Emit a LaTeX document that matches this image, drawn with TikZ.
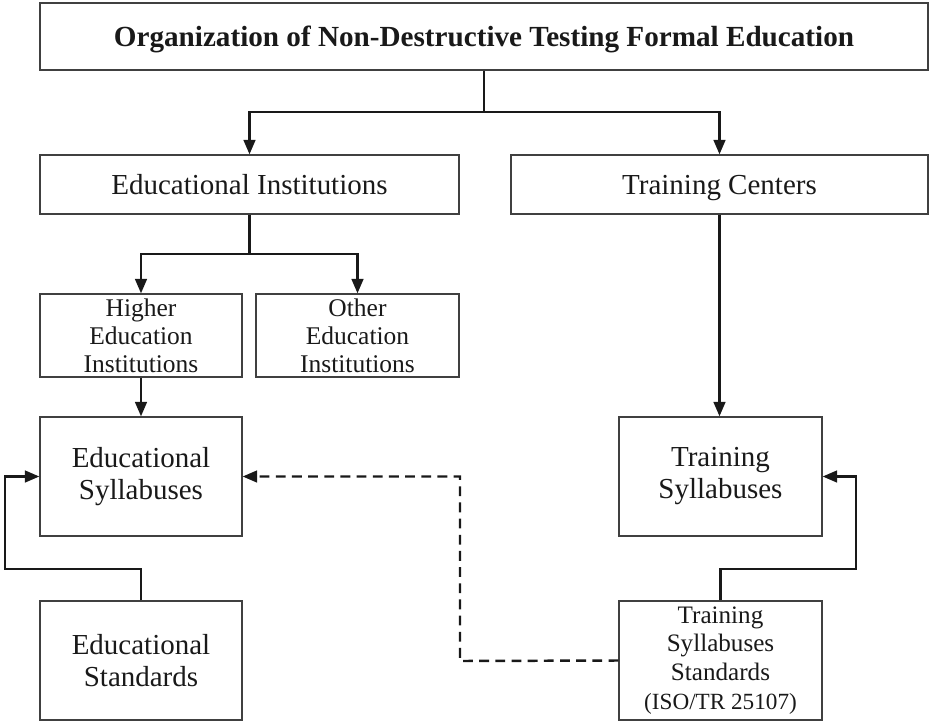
\documentclass[tikz,border=0pt]{standalone}
\usepackage{fontspec}
\setmainfont{Liberation Serif}
\usetikzlibrary{arrows.meta}
\begin{document}
\begin{tikzpicture}[x=0.02cm,y=-0.02cm,
  box/.style={draw=black!75, line width=0.7pt, rectangle, inner sep=0pt, align=center, text=black!90},
  conn/.style={line width=1.4pt, draw=black!90, -{Triangle[length=8.2pt,width=6.6pt]}},
  plain/.style={line width=1.4pt, draw=black!90},
  dconn/.style={conn, dash pattern=on 5.6pt off 3.6pt},
  single/.style={text height=14pt, text depth=3pt}
]
\useasboundingbox (0,0) rectangle (931,724);

% boxes
\node[box, single, minimum width=888*0.02cm, minimum height=67*0.02cm, font=\fontsize{16.6}{19}\selectfont\bfseries]
  (title) at (484,36.5) {Organization of Non-Destructive Testing Formal Education};
\node[box, single, minimum width=419*0.02cm, minimum height=59*0.02cm, font=\fontsize{16.5}{19}\selectfont]
  (eduinst) at (249.5,184.5) {Educational Institutions};
\node[box, single, minimum width=417*0.02cm, minimum height=59*0.02cm, font=\fontsize{16.5}{19}\selectfont]
  (trainc) at (719.5,184.5) {Training Centers};
\node[box, minimum width=202*0.02cm, minimum height=83*0.02cm, font=\fontsize{14.5}{15.9}\selectfont]
  (higher) at (141,335.5) {Higher\\Education\\Institutions};
\node[box, minimum width=203*0.02cm, minimum height=83*0.02cm, font=\fontsize{14.5}{15.9}\selectfont]
  (other) at (357.5,335.5) {Other\\Education\\Institutions};
\node[box, minimum width=202*0.02cm, minimum height=119*0.02cm, font=\fontsize{16.5}{18.2}\selectfont]
  (edusyl) at (141,476.5) {Educational\\Syllabuses};
\node[box, minimum width=203*0.02cm, minimum height=119*0.02cm, font=\fontsize{16.5}{18.2}\selectfont]
  (trsyl) at (720.5,476.5) {Training\\Syllabuses};
\node[box, minimum width=202*0.02cm, minimum height=119*0.02cm, font=\fontsize{16.5}{18.2}\selectfont]
  (edustd) at (141,660.5) {Educational\\Standards};
\node[box, minimum width=203*0.02cm, minimum height=119*0.02cm, font=\fontsize{14.3}{16.4}\selectfont]
  (trstd) at (720.5,660.5) {Training\\Syllabuses\\Standards\\{\fontsize{13.2}{16.4}\selectfont(ISO/TR 25107)}};

% branching points
\coordinate (t1) at (484,112);
\coordinate (e1) at (249.5,254);
\coordinate (l1) at (5,569);
\coordinate (r1) at (856,569);
\coordinate (d1) at (460,661);

% connectors
\draw[plain] (title.south) -- (t1);
\draw[conn] (t1) -| (eduinst.north);
\draw[conn] (t1) -| (trainc.north);
\draw[plain] (eduinst.south) -- (e1);
\draw[conn] (e1) -| (higher.north);
\draw[conn] (e1) -| (other.north);
\draw[conn] (higher.south) -- (edusyl.north);
\draw[conn] (trainc.south) -- (trainc.south |- trsyl.north);
\draw[conn] (edustd.north) |- (l1) |- (edusyl.west);
\draw[conn] (trstd.north) |- (r1) |- (trsyl.east);
\draw[dconn] (trstd.west) -- (d1) |- (edusyl.east);
\end{tikzpicture}
\end{document}
